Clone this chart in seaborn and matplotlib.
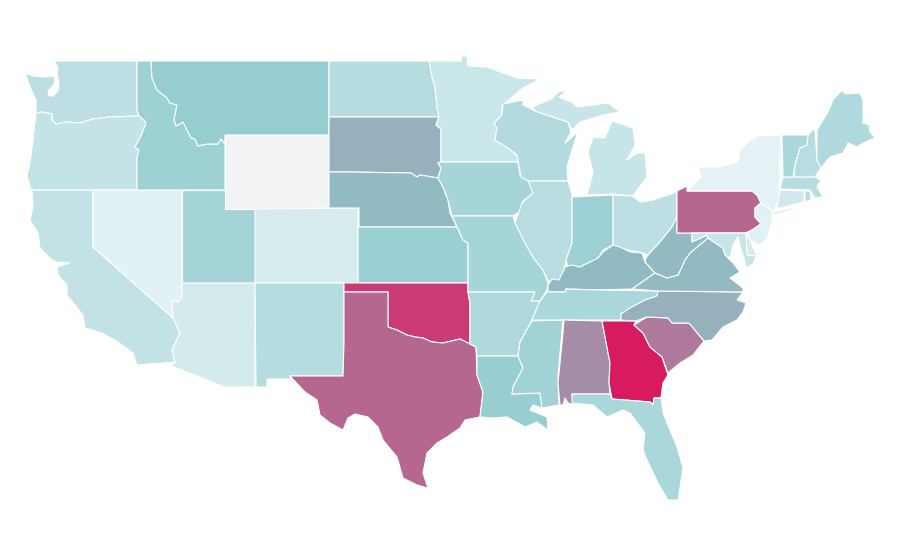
import matplotlib
matplotlib.use('Agg')
import matplotlib.pyplot as plt
from matplotlib.collections import PolyCollection
from matplotlib.colors import Normalize
import numpy as np
import seaborn as sns

# state value, read off from the fill colour (0-100, nan = no data)
states = ['WA', 'OR', 'CA', 'NV', 'ID', 'MT', 'WY', 'UT', 'AZ', 'CO', 'NM', 'ND', 'SD', 'NE', 'KS', 'OK', 'TX',
          'MN', 'IA', 'MO', 'AR', 'LA', 'WI', 'IL', 'MS', 'MI', 'MI2', 'IN', 'OH', 'KY', 'TN', 'AL', 'GA', 'FL',
          'SC', 'NC', 'VA', 'WV', 'PA', 'NY', 'NJ', 'DE', 'MD', 'CT', 'RI', 'MA', 'VT', 'NH', 'ME']
values = [23, 19, 20, 3, 40, 44, np.nan, 36, 10, 9, 27, 27, 57, 54, 42, 91, 78,
          16, 35, 35, 31, 43, 28, 26, 38, 17, 17, 41, 23, 54, 33, 67, 100, 33,
          73, 57, 54, 54, 78, 1, 3, 10, 17, 12, 25, 25, 33, 25, 30]

# outlines, there is no map library to take them from
outlines = {
    'WA': [(54, 61), (137, 61), (137, 110), (139, 116), (109, 117), (93, 119), (80, 123), (67, 122), (56, 124), (52, 120),
           (52, 114), (42, 112), (36, 113), (36, 100), (30, 87), (25, 73), (33, 76), (45, 77), (54, 76), (55, 83), (48, 91),
           (49, 96), (53, 96), (58, 91), (59, 82), (57, 74), (58, 68)],
    'OR': [(36, 113), (42, 112), (52, 114), (52, 120), (56, 124), (67, 122), (80, 123), (93, 119), (109, 117), (139, 116),
           (146, 122), (145, 126), (140, 138), (135, 147), (139, 150), (137, 157), (137, 190), (31, 190), (27, 175), (30, 163), (33, 140)],
    'CA': [(32, 190), (93, 190), (93, 247), (173, 318), (180, 333), (172, 350), (175, 362), (137, 365), (133, 353), (118, 342),
           (102, 333), (85, 328), (83, 315), (67, 295), (67, 285), (58, 275), (57, 267), (70, 263), (56, 262), (52, 260),
           (40, 248), (38, 233), (30, 220), (33, 207)],
    'NV': [(93, 190), (182, 190), (182, 297), (178, 302), (172, 300), (173, 318), (93, 247)],
    'ID': [(137, 61), (151, 61), (152, 78), (157, 90), (167, 98), (170, 103), (177, 105), (174, 120), (176, 126), (183, 122),
           (188, 132), (191, 138), (195, 139), (198, 146), (207, 144), (218, 144), (221, 139), (225, 144), (225, 190), (137, 190),
           (137, 157), (139, 150), (135, 147), (140, 138), (145, 126), (146, 122), (139, 116), (137, 110)],
    'MT': [(151, 61), (329, 61), (329, 135), (225, 135), (225, 144), (221, 139), (218, 144), (207, 144), (198, 146), (195, 139),
           (191, 138), (188, 132), (183, 122), (176, 126), (174, 120), (177, 105), (170, 103), (167, 98), (157, 90), (152, 78)],
    'WY': [(225, 135), (329, 135), (329, 209), (225, 209)],
    'UT': [(182, 190), (225, 190), (225, 209), (255, 209), (255, 283), (182, 283)],
    'AZ': [(182, 283), (255, 283), (255, 387), (224, 387), (172, 366), (175, 362), (172, 350), (180, 333), (173, 318), (172, 300),
           (178, 302), (182, 297)],
    'CO': [(255, 209), (358, 208), (358, 283), (255, 283)],
    'NM': [(255, 283), (344, 283), (344, 343), (343, 376), (290, 376), (291, 379), (267, 379), (267, 387), (256, 387)],
    'ND': [(329, 61), (429, 61), (432, 77), (435, 87), (437, 107), (439, 117), (329, 117)],
    'SD': [(329, 117), (439, 117), (436, 125), (441, 129), (441, 162), (438, 163), (441, 168), (438, 178), (432, 177), (420, 175),
           (417, 177), (411, 173), (347, 172), (329, 172)],
    'NE': [(329, 172), (347, 172), (411, 173), (417, 177), (420, 175), (432, 177), (438, 178), (443, 187), (448, 200), (450, 213),
           (457, 227), (359, 227), (359, 208), (329, 208)],
    'KS': [(358, 227), (457, 227), (463, 240), (468, 243), (468, 283), (358, 283)],
    'OK': [(344, 283), (468, 283), (468, 292), (470, 303), (470, 344), (460, 339), (443, 343), (432, 342), (423, 338), (415, 337),
           (407, 335), (397, 330), (388, 327), (388, 292), (344, 292)],
    'TX': [(344, 292), (388, 292), (388, 327), (397, 330), (407, 335), (415, 337), (423, 338), (432, 342), (443, 343), (460, 339),
           (470, 344), (476, 347), (477, 375), (483, 392), (480, 417), (465, 420), (460, 428), (447, 437), (437, 443), (427, 453),
           (423, 473), (428, 488), (417, 485), (403, 478), (397, 457), (383, 440), (378, 427), (368, 417), (355, 414), (348, 418),
           (343, 430), (330, 423), (320, 415), (317, 400), (305, 392), (290, 376), (343, 376), (344, 343)],
    'MN': [(429, 61), (461, 61), (462, 55), (467, 57), (468, 66), (487, 67), (500, 72), (517, 78), (540, 79), (523, 88), (505, 103),
           (502, 105), (502, 115), (494, 123), (497, 128), (495, 140), (510, 148), (518, 157), (518, 162), (441, 162), (441, 129),
           (436, 125), (439, 117), (437, 107), (435, 87), (432, 77)],
    'IA': [(441, 162), (518, 162), (520, 175), (528, 180), (534, 192), (522, 202), (522, 210), (513, 216), (452, 216), (448, 200),
           (443, 187), (438, 178), (441, 168), (438, 163)],
    'MO': [(452, 216), (513, 216), (515, 223), (525, 243), (533, 257), (543, 270), (548, 283), (547, 290), (540, 301), (531, 301),
           (535, 292), (468, 292), (468, 243), (463, 240), (457, 227)],
    'AR': [(468, 292), (535, 292), (531, 301), (540, 301), (537, 308), (532, 320), (520, 342), (518, 356), (477, 356), (476, 347),
           (470, 344), (470, 303)],
    'LA': [(477, 356), (518, 356), (523, 368), (513, 387), (512, 394), (540, 393), (542, 408), (533, 405), (530, 410), (547, 417),
           (548, 430), (537, 422), (525, 427), (507, 417), (493, 418), (480, 417), (483, 392), (477, 375)],
    'WI': [(503, 104), (523, 100), (523, 105), (535, 111), (568, 122), (571, 132), (565, 143), (578, 132), (572, 150), (567, 167),
           (568, 181), (528, 181), (521, 177), (517, 155), (508, 148), (495, 140), (497, 128), (494, 123), (502, 115)],
    'IL': [(528, 181), (568, 181), (572, 195), (572, 243), (566, 260), (563, 275), (558, 282), (548, 281), (543, 270), (533, 257),
           (525, 243), (515, 223), (522, 203), (533, 193)],
    'MS': [(532, 321), (563, 320), (558, 375), (559, 405), (542, 408), (540, 393), (512, 394), (513, 387), (523, 368), (518, 356), (520, 342)],
    'MI': [(587, 195), (613, 194), (633, 196), (637, 190), (647, 177), (645, 153), (637, 153), (627, 160), (635, 145), (633, 128),
           (612, 121), (605, 138), (593, 137), (588, 152), (593, 173)],
    'MI2': [(533, 107), (553, 98), (558, 92), (568, 90), (559, 97), (566, 100), (572, 102), (577, 107), (608, 103), (620, 112), (603, 115),
            (580, 122), (572, 130), (568, 122), (535, 111)],
    'IN': [(572, 197), (613, 195), (613, 245), (603, 250), (595, 263), (590, 262), (580, 267), (568, 267), (566, 260), (572, 243)],
    'OH': [(613, 195), (633, 196), (640, 202), (653, 200), (677, 192), (677, 216), (672, 227), (660, 242), (648, 255), (643, 253),
           (620, 248), (613, 245)],
    'KY': [(548, 292), (565, 292), (566, 289), (600, 290), (632, 289), (645, 280), (655, 273), (645, 262), (642, 253), (630, 252),
           (620, 247), (613, 245), (603, 252), (598, 258), (590, 262), (580, 267), (572, 265), (565, 267), (559, 280), (552, 279), (548, 285)],
    'TN': [(547, 292), (565, 292), (566, 289), (600, 290), (658, 291), (657, 296), (645, 300), (630, 308), (621, 314), (621, 320),
           (532, 320), (537, 308), (540, 301)],
    'AL': [(564, 320), (602, 321), (610, 363), (609, 383), (610, 394), (572, 394), (574, 405), (568, 403), (565, 398), (563, 405),
           (560, 405), (558, 383), (563, 333)],
    'GA': [(602, 321), (636, 321), (634, 325), (643, 333), (650, 347), (662, 357), (668, 375), (663, 383), (661, 398), (654, 398),
           (653, 405), (650, 402), (612, 399), (609, 383), (610, 363)],
    'FL': [(572, 394), (610, 394), (612, 399), (650, 402), (653, 405), (654, 398), (661, 398), (663, 413), (677, 447), (683, 468),
           (678, 500), (668, 500), (658, 483), (647, 460), (643, 450), (645, 433), (630, 413), (623, 410), (607, 417), (593, 405), (572, 403)],
    'SC': [(634, 325), (647, 317), (668, 318), (672, 323), (689, 323), (704, 341), (693, 355), (680, 363), (668, 373), (662, 357),
           (650, 347), (643, 333)],
    'NC': [(658, 291), (743, 292), (737, 300), (746, 303), (743, 312), (737, 320), (723, 327), (712, 340), (704, 341), (689, 323),
           (672, 323), (668, 318), (647, 317), (636, 321), (621, 320), (621, 314), (630, 308), (645, 300), (657, 296)],
    'VA': [(632, 289), (645, 280), (655, 273), (667, 278), (678, 275), (685, 260), (690, 253), (708, 238), (723, 248), (725, 255),
           (733, 263), (740, 272), (730, 278), (743, 288), (743, 292), (658, 291)],
    'WV': [(646, 258), (648, 255), (660, 242), (672, 227), (677, 216), (677, 233), (692, 233), (692, 242), (707, 235), (708, 238),
           (690, 253), (685, 260), (678, 275), (667, 278), (655, 273), (645, 262)],
    'PA': [(677, 191), (687, 186), (687, 191), (752, 191), (757, 195), (761, 203), (755, 208), (755, 217), (761, 224), (752, 230),
           (746, 233), (677, 233)],
    'NY': [(687, 191), (701, 177), (698, 167), (720, 167), (738, 162), (740, 150), (748, 142), (757, 136), (781, 135), (780, 160),
           (779, 197), (775, 208), (773, 212), (800, 206), (790, 211), (775, 215), (770, 212), (761, 203), (757, 195), (752, 191)],
    'NJ': [(761, 203), (772, 210), (772, 220), (768, 237), (760, 245), (750, 240), (746, 233), (752, 230), (761, 224), (755, 217),
           (755, 208)],
    'DE': [(746, 233), (750, 240), (753, 248), (757, 256), (747, 255)],
    'MD': [(692, 233), (746, 233), (747, 255), (756, 256), (753, 264), (746, 268), (744, 258), (741, 250), (738, 237), (733, 245),
           (730, 258), (725, 255), (723, 248), (708, 238), (707, 235), (692, 242)],
    'CT': [(780, 190), (804, 191), (804, 202), (780, 208), (777, 208)],
    'RI': [(805, 191), (810, 191), (811, 200), (805, 202)],
    'MA': [(783, 177), (815, 177), (821, 180), (817, 187), (823, 197), (830, 196), (815, 198), (810, 190), (780, 189)],
    'VT': [(782, 135), (808, 135), (807, 145), (800, 148), (795, 165), (793, 177), (783, 177)],
    'NH': [(808, 135), (812, 130), (815, 130), (817, 160), (821, 168), (815, 177), (794, 177), (795, 165), (800, 148), (807, 145)],
    'ME': [(817, 130), (828, 112), (833, 100), (842, 90), (845, 94), (860, 93), (863, 100), (863, 123), (869, 125), (870, 132),
           (875, 138), (863, 143), (857, 147), (848, 143), (843, 153), (830, 157), (821, 168), (817, 160)],
}

sns.set_theme(style='white')
cmap = sns.blend_palette(['#e6f3f6', '#8bc8cc', '#d81b60'], n_colors=256, as_cmap=True)
cmap.set_bad('#f2f3f5')
norm = Normalize(0, 100)

fig, ax = plt.subplots(figsize=(9, 5.6), dpi=100)
fig.subplots_adjust(0, 0, 1, 1)

polys = PolyCollection([outlines[s] for s in states], array=np.ma.masked_invalid(values), cmap=cmap, norm=norm,
                       edgecolors='white', linewidths=0.8)
ax.add_collection(polys)

ax.set_xlim(0, 900)
ax.set_ylim(560, 0)
ax.axis('off')

fig.savefig('out.png', dpi=100)
